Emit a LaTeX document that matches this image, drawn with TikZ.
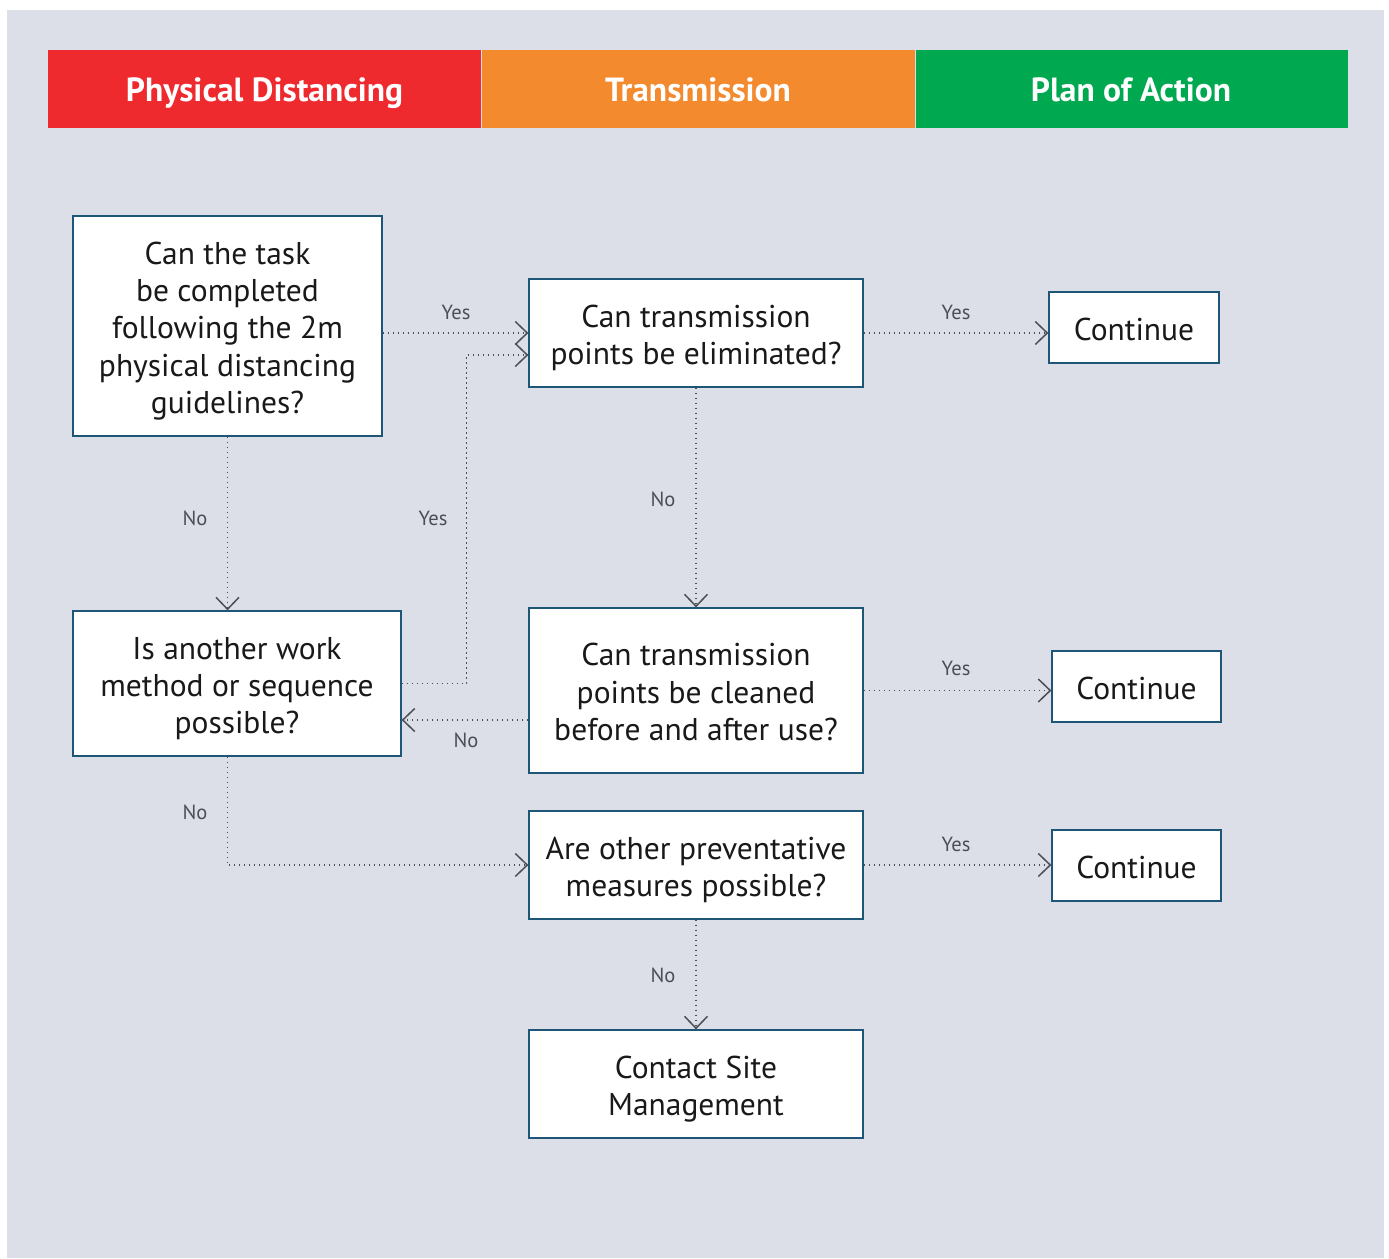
\documentclass[tikz,border=0pt]{standalone}
\usepackage{fontspec}
\setmainfont{PT Sans}
\usetikzlibrary{arrows.meta,positioning,calc}
\definecolor{bgc}{HTML}{DCDFE7}
\definecolor{hred}{HTML}{EE2A2F}
\definecolor{horange}{HTML}{F48A2E}
\definecolor{hgreen}{HTML}{00A94F}
\definecolor{boxc}{HTML}{1E5678}
\definecolor{arrc}{HTML}{4A4F55}
\tikzset{
  box/.style={draw=boxc, line width=1.3pt, fill=white, inner sep=0pt},
  txt/.style={align=center, inner sep=0pt, font=\fontsize{31.5}{37.3}\selectfont, text=black!90},
  conn/.style={draw=arrc, line width=1.3pt, dash pattern=on 1.3pt off 3.7pt,
    -{Straight Barb[length=12pt,width=23pt,line width=1.5pt]}},
  lbl/.style={font=\fontsize{20.5}{24}\selectfont, text=arrc},
  hdr/.style={font=\fontsize{33.5}{36}\selectfont\bfseries, text=white, anchor=base}
}
\begin{document}
\begin{tikzpicture}[x=1pt,y=-1pt]
\useasboundingbox (0,0) rectangle (1389,1258);
\fill[white] (0,0) rectangle (1389,1258);
\fill[bgc] (7,10) rectangle (1384,1258);
% header
\fill[hred] (48,50) rectangle (481,128);
\fill[horange] (482,50) rectangle (914.5,128);
\fill[hgreen] (916,50) rectangle (1348,128);
\node[hdr] (h1) at (264.5,101.5) {Physical Distancing};
\node[hdr] (h2) at (698,101.5) {Transmission};
\node[hdr] (h3) at (1131,101.5) {Plan of Action};
% boxes
\node[box, minimum width=309pt, minimum height=220pt] (A) at (227.5,326) {};
\node[box, minimum width=334pt, minimum height=108pt] (B) at (696,333) {};
\node[box, minimum width=170pt, minimum height=71pt] (C1) at (1134,327.5) {};
\node[box, minimum width=328pt, minimum height=145pt] (D) at (237,683.5) {};
\node[box, minimum width=334pt, minimum height=165pt] (E) at (696,690.5) {};
\node[box, minimum width=169pt, minimum height=71pt] (C2) at (1136.5,686.5) {};
\node[box, minimum width=334pt, minimum height=108pt] (F) at (696,865) {};
\node[box, minimum width=169pt, minimum height=71pt] (C3) at (1136.5,865.5) {};
\node[box, minimum width=334pt, minimum height=108pt] (G) at (696,1084) {};
% box texts
\node[txt] (At) at ([yshift=-5pt]A.center) {Can the task\\be completed\\following the 2m\\physical distancing\\guidelines?};
\node[txt] (Bt) at ([yshift=-5pt]B.center) {Can transmission\\points be eliminated?};
\node[txt] (C1t) at ([yshift=-2pt]C1.center) {Continue};
\node[txt] (Dt) at ([yshift=-5pt]D.center) {Is another work\\method or sequence\\possible?};
\node[txt] (Et) at ([yshift=-1.5pt]E.center) {Can transmission\\points be cleaned\\before and after use?};
\node[txt] (C2t) at ([yshift=-2pt]C2.center) {Continue};
\node[txt] (Ft) at ([yshift=-5pt]F.center) {Are other preventative\\measures possible?};
\node[txt] (C3t) at ([yshift=-2pt]C3.center) {Continue};
\node[txt] (Gt) at ([yshift=-5pt]G.center) {Contact Site\\Management};
% connectors
\draw[conn] (A.east |- B.west) -- (B.west);
\draw[conn] (D.east) -- ++(65,0) |- ([yshift=-22pt]B.west);
\draw[conn] (B.east) -- (B.east -| C1.west);
\draw[conn] (A.south) -- (A.south |- D.north);
\draw[conn] (B.south) -- (E.north);
\draw[conn] ([yshift=-29.5pt]E.west) -- ([yshift=-29.5pt]E.west -| D.east);
\draw[conn] (E.east) -- (E.east -| C2.west);
\draw[conn] (A.south |- D.south) |- (F.west);
\draw[conn] (F.east) -- (F.east -| C3.west);
\draw[conn] (F.south) -- (G.north);
% labels
\node[lbl] (l1) at (456,312) {Yes};
\node[lbl] (l2) at (433,518) {Yes};
\node[lbl] (l3) at (956,312) {Yes};
\node[lbl] (l4) at (195,518) {No};
\node[lbl] (l5) at (663,499) {No};
\node[lbl] (l6) at (466,740) {No};
\node[lbl] (l7) at (956,668) {Yes};
\node[lbl] (l8) at (195,812) {No};
\node[lbl] (l9) at (956,844) {Yes};
\node[lbl] (l10) at (663,975) {No};
\end{tikzpicture}
\end{document}
